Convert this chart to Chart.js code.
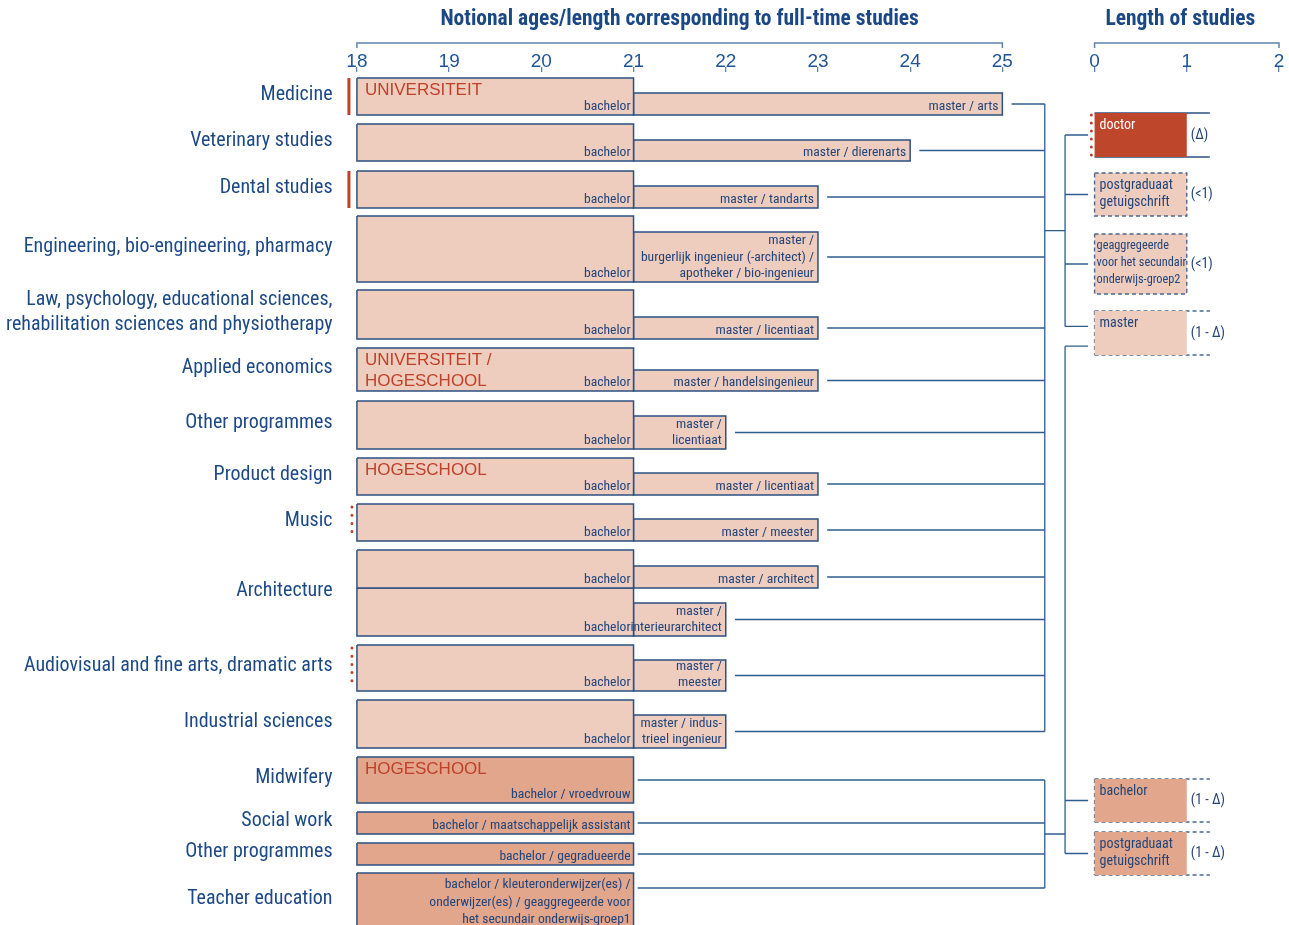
<!DOCTYPE html>
<html>
<head>
<meta charset="utf-8">
<title>Notional ages and length of studies</title>
<script src="https://cdn.jsdelivr.net/npm/chart.js@4.4.1/dist/chart.umd.min.js"></script>
<style>
  html, body { margin: 0; padding: 0; background: #fff; }
  #wrap { position: relative; width: 1289px; height: 925px; }
</style>
</head>
<body>
<div id="wrap"><canvas id="chart" width="1289" height="925"></canvas></div>
<script>
// ---- rows of the left axis ----
const rowLabels = [
  'Medicine', 'Veterinary studies', 'Dental studies', 'Engineering, bio-engineering, pharmacy',
  ['Law, psychology, educational sciences,', 'rehabilitation sciences and physiotherapy'],
  'Applied economics', 'Other programmes', 'Product design', 'Music', 'Architecture',
  'Audiovisual and fine arts, dramatic arts', 'Industrial sciences', 'Midwifery', 'Social work',
  'Other programmes', 'Teacher education'
];
const rowMarker = ['solid', '', 'solid', '', '', '', '', '', 'dotted', '', 'dotted', '', '', '', '', ''];

// ---- tracks: one bachelor (+ master) pair each, architecture has two ----
const trackRow = [0, 1, 2, 3, 4, 5, 6, 7, 8, 9, 9, 10, 11, 12, 13, 14, 15];
const bachelorFrom = 18;
const bachelorTo = 21;
const masterTo = [25, 24, 23, 23, 23, 23, 22, 23, 23, 23, 22, 22, 22, null, null, null, null];
const trackTop = [0.6, 5.2, 9.9, 14.4, 21.8, 27.6, 32.9, 38.6, 43.2, 47.8, 51.6, 57.3, 62.8, 68.5, 74.0, 77.1, 80.1];
const trackBottom = [4.3, 8.9, 13.6, 21.0, 26.7, 31.9, 37.7, 42.3, 46.9, 51.6, 56.4, 61.9, 67.6, 73.1, 76.2, 79.3, 85.6];
const masterTop = [2.1, 6.8, 11.4, 16.0, 24.5, 29.8, 34.4, 40.1, 44.7, 49.4, 53.1, 58.8, 64.3, null, null, null, null];
const bachelorText = [
  'bachelor', 'bachelor', 'bachelor', 'bachelor', 'bachelor', 'bachelor', 'bachelor', 'bachelor',
  'bachelor', 'bachelor', 'bachelor', 'bachelor', 'bachelor',
  'bachelor / vroedvrouw', 'bachelor / maatschappelijk assistant', 'bachelor / gegradueerde',
  'bachelor / kleuteronderwijzer(es) /\nonderwijzer(es) / geaggregeerde voor\nhet secundair onderwijs-groep1'
];
const masterText = [
  'master / arts', 'master / dierenarts', 'master / tandarts',
  'master /\nburgerlijk ingenieur (-architect) /\napotheker / bio-ingenieur',
  'master / licentiaat', 'master / handelsingenieur', 'master /\nlicentiaat', 'master / licentiaat',
  'master / meester', 'master / architect', 'master /\ninterieurarchitect', 'master /\nmeester',
  'master / indus-\ntrieel ingenieur', '', '', '', ''
];
const institution = ['UNIVERSITEIT', '', '', '', '', 'UNIVERSITEIT /\nHOGESCHOOL', '', 'HOGESCHOOL', '', '', '', '', '', 'HOGESCHOOL', '', '', ''];

// ---- right panel: length of further studies ----
const lengthText = ['doctor', 'postgraduaat\ngetuigschrift', 'geaggregeerde\nvoor het secundair\nonderwijs-groep2', 'master', 'bachelor', 'postgraduaat\ngetuigschrift'];
const lengthTo = [1, 1, 1, 1, 1, 1];
const lengthOpenTo = [1.25, null, null, 1.25, 1.25, 1.25];
const lengthNote = ['(\u0394)', '(<1)', '(<1)', '(1 - \u0394)', '(1 - \u0394)', '(1 - \u0394)'];
const lengthKind = ['doctor', 'uni', 'uni', 'uni', 'hs', 'hs'];
const lengthTop = [4.1, 10.1, 16.2, 23.9, 70.7, 76.0];
const lengthBottom = [8.5, 14.4, 22.2, 28.3, 75.0, 80.3];

// ---- axis ticks ----
const ageTicks = [18, 19, 20, 21, 22, 23, 24, 25];
const lengthTicks = [0, 1, 2];
const LENGTH_ORIGIN = 26; // length axis shares the age scale, shifted

const C_TITLE = '#1b4885';
const C_TEXT = '#1d4a86';
const C_TICK = '#1f5597';
const C_AXIS = '#5f83ad';
const C_BAR_TEXT = '#24457a';
const C_BORDER = '#2d5082';
const C_DASH = '#4a6790';
const C_LINK = '#2f5b8f';
const C_RED = '#c1402a';
const FILL_UNI = '#eecdbe';
const FILL_HS = '#e1a68c';
const FILL_DR = '#be462a';
const COND = 'Roboto, "DejaVu Sans Condensed", sans-serif'; // used with font-stretch: condensed
const SANS = '"Liberation Sans", Arial, sans-serif';

function setFont(ctx, spec, family, stretch) {
  ctx.font = spec + ' ' + family;
  ctx.fontStretch = stretch || 'normal';
}

const datasets = [];
function shape(points, style) {
  datasets.push(Object.assign({
    type: 'line', data: points, tension: 0, fill: false,
    pointRadius: 0, pointHoverRadius: 0, pointHitRadius: 0,
    borderWidth: 0, borderColor: 'rgba(0,0,0,0)', backgroundColor: 'rgba(0,0,0,0)'
  }, style));
}
function rectPts(x1, x2, y1, y2) {
  return [{x: x1, y: y1}, {x: x2, y: y1}, {x: x2, y: y2}, {x: x1, y: y2}, {x: x1, y: y1}];
}
function seg(x1, y1, x2, y2, color, width, dash) {
  shape([{x: x1, y: y1}, {x: x2, y: y2}], {borderColor: color, borderWidth: width, borderDash: dash || [], borderCapStyle: dash && dash[0] === 0 ? 'round' : 'butt'});
}
const mid = (a, b) => (a + b) / 2;

// bars on the age axis
trackRow.forEach((r, i) => {
  const hs = masterTo[i] == null;
  shape(rectPts(bachelorFrom, bachelorTo, trackTop[i], trackBottom[i]),
    {fill: 'shape', backgroundColor: hs ? FILL_HS : FILL_UNI, borderColor: C_BORDER, borderWidth: 1.5});
  if (!hs) {
    shape(rectPts(bachelorTo, masterTo[i], masterTop[i], trackBottom[i]),
      {fill: 'shape', backgroundColor: FILL_UNI, borderColor: C_BORDER, borderWidth: 1.5});
  }
});

// red markers left of some rows
const rowTop = rowLabels.map((_, r) => Math.min(...trackTop.filter((_, i) => trackRow[i] === r)));
const rowBottom = rowLabels.map((_, r) => Math.max(...trackBottom.filter((_, i) => trackRow[i] === r)));
rowMarker.forEach((m, r) => {
  if (m === 'solid') seg(17.913, rowTop[r], 17.913, rowBottom[r], C_RED, 3);
  if (m === 'dotted') seg(17.946, rowTop[r] + 0.3, 17.946, rowBottom[r] - 0.3, C_RED, 3, [0, 8.2]);
});

// boxes on the length axis
const L = v => LENGTH_ORIGIN + v;
lengthKind.forEach((k, i) => {
  const bg = k === 'doctor' ? FILL_DR : (k === 'hs' ? FILL_HS : FILL_UNI);
  const t = lengthTop[i], b = lengthBottom[i];
  if (lengthOpenTo[i] == null) {
    shape(rectPts(L(0), L(lengthTo[i]), t, b), {fill: 'shape', backgroundColor: bg, borderColor: C_DASH, borderWidth: 1.4, borderDash: [4, 3]});
  } else {
    shape(rectPts(L(0), L(lengthTo[i]), t, b), {fill: 'shape', backgroundColor: bg});
    const dash = k === 'doctor' ? [] : [4, 3];
    const col = k === 'doctor' ? C_BORDER : C_DASH;
    seg(L(0), t, L(lengthOpenTo[i]), t, col, 1.4, dash);
    seg(L(0), b, L(lengthOpenTo[i]), b, col, 1.4, dash);
    if (k === 'doctor') seg(L(-0.035), t + 0.2, L(-0.035), b, C_RED, 3, [0, 8]);
    else seg(L(0), t, L(0), b, C_DASH, 1.4, [4, 3]);
  }
});

// connector trees
const TRUNK = 25.46, BRANCH = 25.68, LEAF = 25.93;
const linkY = trackRow.map((_, i) => {
  if (masterTo[i] != null) return mid(masterTop[i], trackBottom[i]);
  return bachelorText[i].includes('\n') ? trackTop[i] + 1.5 : mid(trackTop[i], trackBottom[i]);
});
const boxY = lengthTop.map((t, i) => mid(t, lengthBottom[i]));
const masterBoxH = lengthBottom[3] - lengthTop[3];
function tree(sources, targets) {
  sources.forEach(s => seg(s.x, s.y, TRUNK, s.y, C_LINK, 1.3));
  targets.forEach(y => seg(BRANCH, y, LEAF, y, C_LINK, 1.3));
  const sy = sources.map(s => s.y), ty = targets;
  const s0 = Math.min(...sy), s1 = Math.max(...sy), t0 = Math.min(...ty), t1 = Math.max(...ty);
  seg(TRUNK, s0, TRUNK, s1, C_LINK, 1.3);
  seg(BRANCH, t0, BRANCH, t1, C_LINK, 1.3);
  const j = (s1 - s0) < (t1 - t0) ? mid(s0, s1) : mid(t0, t1);
  seg(TRUNK, j, BRANCH, j, C_LINK, 1.3);
}
const uni = trackRow.map((_, i) => i).filter(i => masterTo[i] != null);
const hs = trackRow.map((_, i) => i).filter(i => masterTo[i] == null);
tree(uni.map(i => ({x: masterTo[i] + 0.1, y: linkY[i]})),
  [boxY[0], boxY[1], boxY[2], lengthTop[3] + 0.35 * masterBoxH]);
tree(hs.map(i => ({x: bachelorTo + 0.045, y: linkY[i]})),
  [lengthTop[3] + 0.8 * masterBoxH, boxY[4], boxY[5]]);

const rowCenters = rowLabels.map((_, r) => mid(rowTop[r], rowBottom[r]) - 0.2);

function multi(ctx, text, x, y, lh, fromBottom) {
  const lines = text.split('\n');
  lines.forEach((t, k) => {
    const yy = fromBottom ? y - (lines.length - 1 - k) * lh : y + k * lh;
    ctx.fillText(t, x, yy);
  });
}

const decor = {
  id: 'decor',
  afterDatasetsDraw(chart) {
    const ctx = chart.ctx, xs = chart.scales.x, ys = chart.scales.y;
    const px = v => xs.getPixelForValue(v), py = v => ys.getPixelForValue(v);
    ctx.save();
    ctx.beginPath();
    ctx.rect(0, chart.chartArea.top, chart.width, chart.chartArea.bottom - chart.chartArea.top);
    ctx.clip();
    // bar texts
    setFont(ctx, '13.6px', COND, 'condensed');
    ctx.fillStyle = C_BAR_TEXT;
    ctx.textAlign = 'right';
    ctx.textBaseline = 'alphabetic';
    trackRow.forEach((_, i) => {
      multi(ctx, bachelorText[i], px(bachelorTo) - 3, py(trackBottom[i]) - 5, 17.5, true);
      if (masterText[i]) multi(ctx, masterText[i], px(masterTo[i]) - 4, py(trackBottom[i]) - 5, 16.3, true);
    });
    // institution labels
    setFont(ctx, '17px', SANS);
    ctx.fillStyle = C_RED;
    ctx.textAlign = 'left';
    ctx.textBaseline = 'middle';
    trackRow.forEach((_, i) => {
      if (institution[i]) multi(ctx, institution[i], px(bachelorFrom) + 8, py(trackTop[i]) + 12.5, 21, false);
    });
    // length boxes
    lengthText.forEach((t, i) => {
      const three = t.split('\n').length > 2;
      setFont(ctx, three ? '12.3px' : '14px', COND, 'condensed');
      ctx.fillStyle = lengthKind[i] === 'doctor' ? '#ffffff' : C_BAR_TEXT;
      ctx.textAlign = 'left';
      multi(ctx, t, px(L(0)) + (three ? 2 : 5), py(lengthTop[i]) + 12, three ? 17 : 17.5, false);
      setFont(ctx, '14px', COND, 'condensed');
      ctx.fillStyle = C_BAR_TEXT;
      ctx.fillText(lengthNote[i], px(L(lengthTo[i])) + 4, py(boxY[i]));
    });
    ctx.restore();
  },
  afterDraw(chart) {
    const ctx = chart.ctx, xs = chart.scales.x;
    const px = v => xs.getPixelForValue(v);
    ctx.save();
    ctx.strokeStyle = C_AXIS;
    ctx.lineWidth = 1.5;
    [[ageTicks[0], ageTicks[ageTicks.length - 1]], [L(lengthTicks[0]), L(lengthTicks[lengthTicks.length - 1])]].forEach(([a, b]) => {
      ctx.beginPath();
      ctx.moveTo(px(a), 48); ctx.lineTo(px(a), 43); ctx.lineTo(px(b), 43); ctx.lineTo(px(b), 48);
      ctx.stroke();
    });
    ctx.fillStyle = C_TITLE;
    setFont(ctx, 'bold 21.5px', COND, 'condensed');
    ctx.textAlign = 'center';
    ctx.textBaseline = 'middle';
    ctx.fillText('Notional ages/length corresponding to full-time studies', px(mid(ageTicks[0], ageTicks[ageTicks.length - 1])), 20);
    ctx.fillText('Length of studies', px(L(0.93)), 20);
    ctx.fontStretch = 'normal';
    ctx.restore();
  }
};

new Chart(document.getElementById('chart'), {
  type: 'line',
  data: { datasets },
  plugins: [decor],
  options: {
    responsive: false,
    animation: false,
    events: [],
    layout: { padding: { left: 0, right: 0.8, top: 0, bottom: 0 } },
    plugins: { legend: { display: false }, tooltip: { enabled: false } },
    scales: {
      x: {
        type: 'linear', position: 'top', min: 17.8, max: 28.1,
        afterBuildTicks: s => { s.ticks = ageTicks.concat(lengthTicks.map(L)).map(v => ({ value: v })); },
        afterFit: s => { s.height = 72; s.paddingLeft = 0; s.paddingRight = 0; },
        grid: { drawOnChartArea: false, drawTicks: true, tickLength: 5, color: C_AXIS, lineWidth: 1.3 },
        border: { display: false },
        ticks: {
          autoSkip: false, maxRotation: 0, padding: -4, color: C_TICK,
          font: { family: SANS, size: 19, lineHeight: 1 },
          callback: v => v <= ageTicks[ageTicks.length - 1] ? String(v) : String(Math.round(v - LENGTH_ORIGIN))
        }
      },
      y: {
        type: 'linear', reverse: true, min: 0, max: 85.3,
        afterBuildTicks: s => { s.ticks = rowCenters.map(v => ({ value: v })); },
        afterFit: s => { s.width = 338.5; s.paddingTop = 0; s.paddingBottom = 0; },
        grid: { display: false, drawTicks: false },
        border: { display: false },
        ticks: {
          autoSkip: false, padding: 6, color: C_TEXT,
          // weight slot carries the font-stretch keyword into the canvas font string
          font: { family: COND, size: 20, weight: 'condensed', lineHeight: 1.25 },
          callback: (v, i) => rowLabels[i]
        }
      }
    }
  }
});
</script>
</body>
</html>
